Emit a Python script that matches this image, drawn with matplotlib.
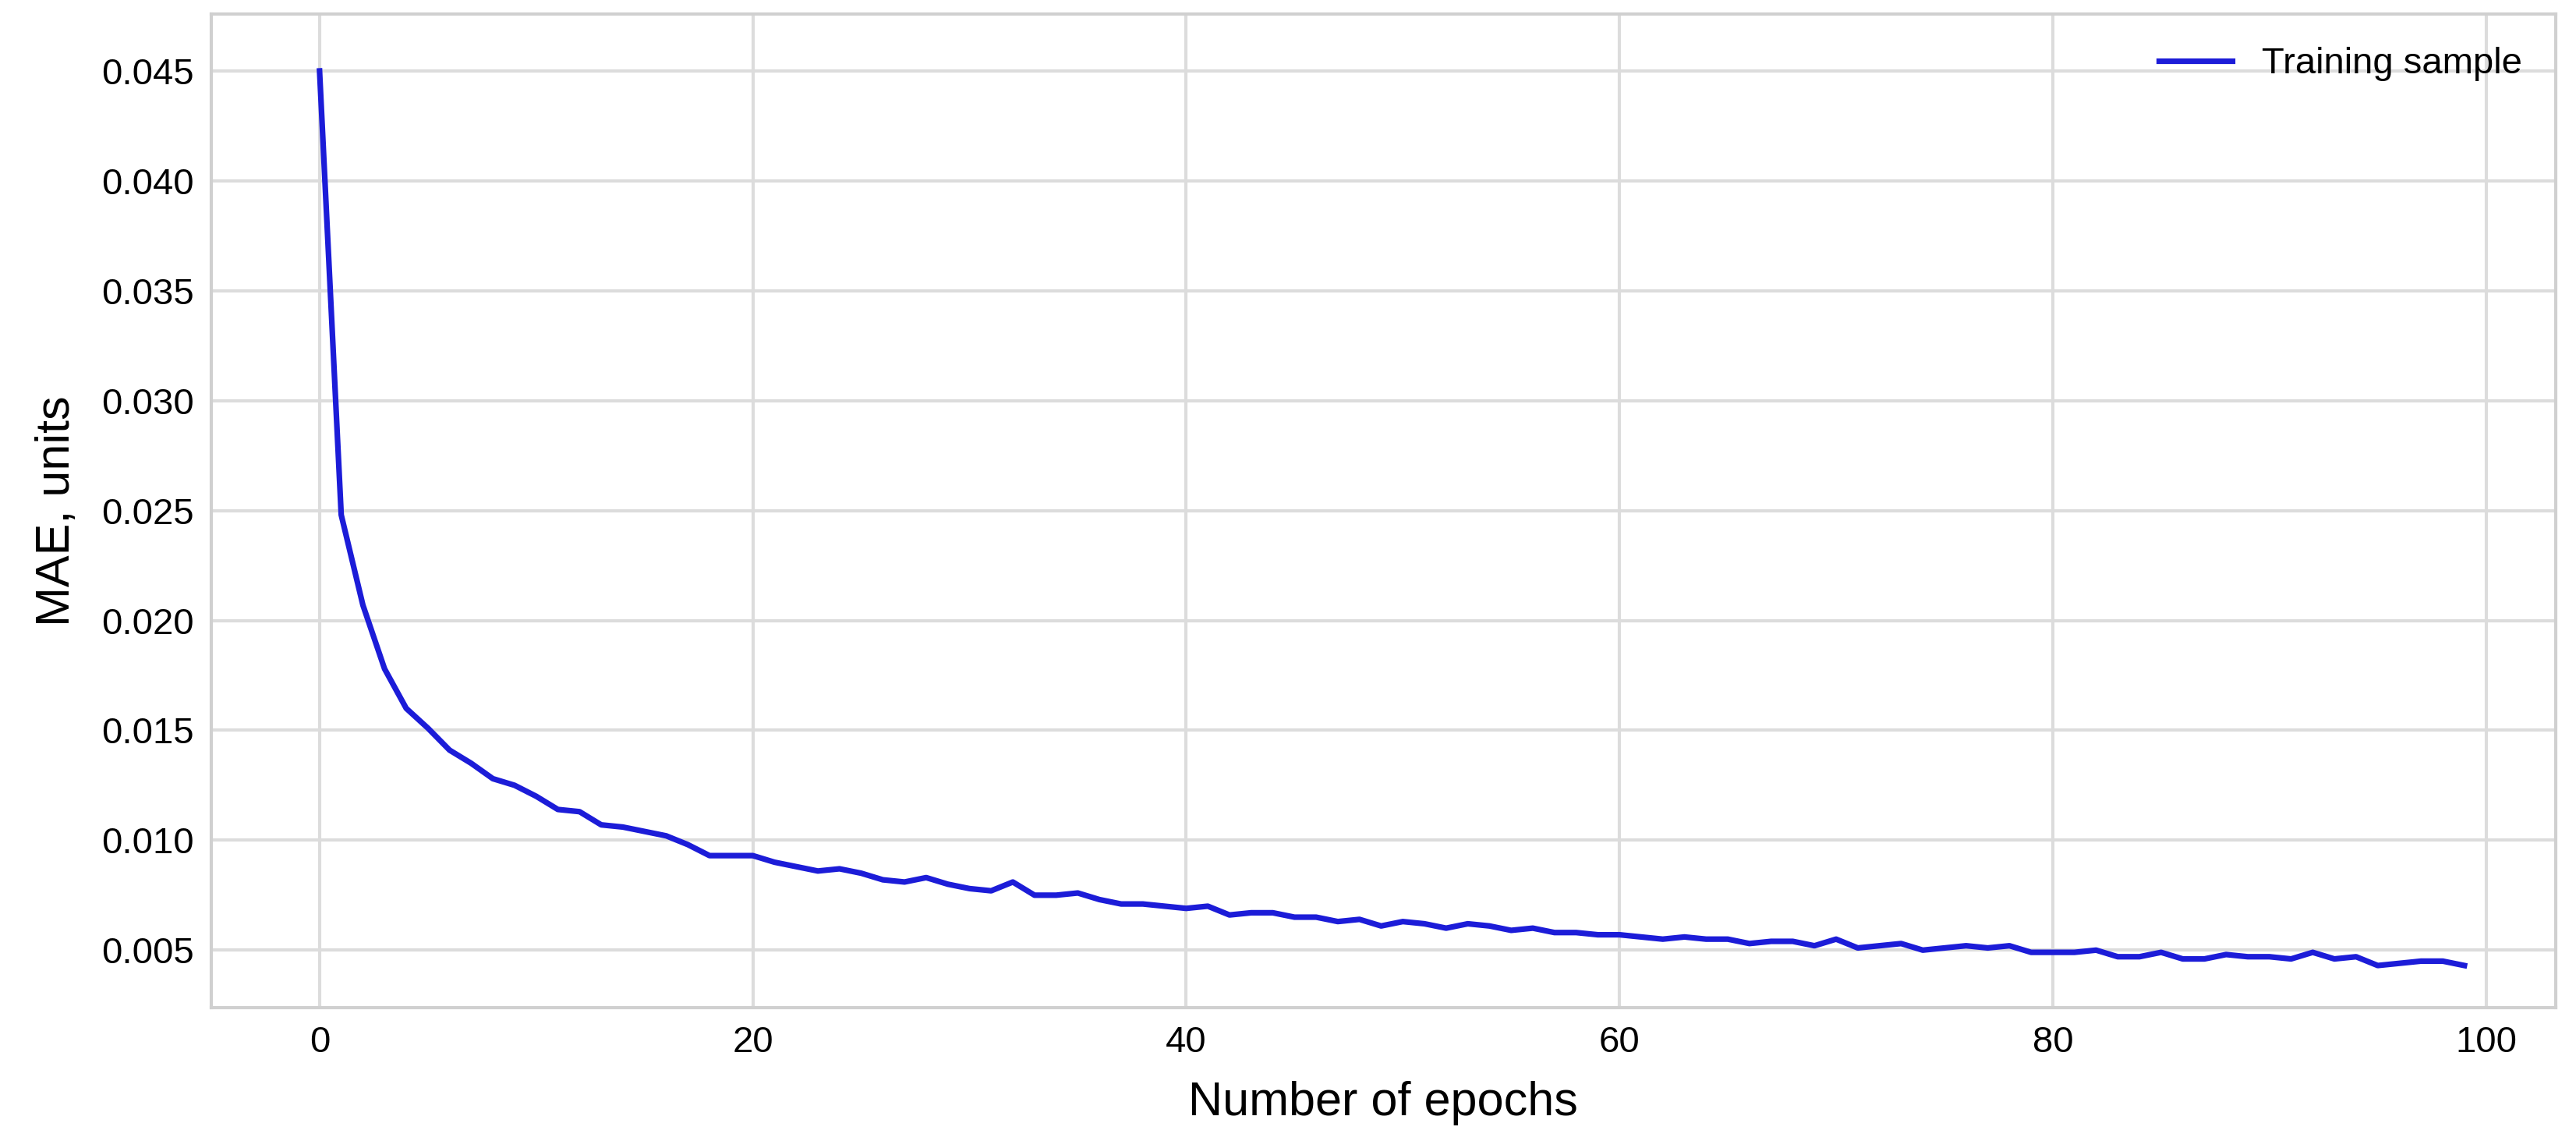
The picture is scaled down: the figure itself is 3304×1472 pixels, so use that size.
import numpy as np
import matplotlib
matplotlib.use("Agg")
import matplotlib.pyplot as plt

epochs = np.arange(100)
mae = [
    0.0450, 0.0248, 0.0207, 0.0178, 0.0160, 0.0151, 0.0141, 0.0135, 0.0128, 0.0125,
    0.0120, 0.0114, 0.0113, 0.0107, 0.0106, 0.0104, 0.0102, 0.0098, 0.0093, 0.0093,
    0.0093, 0.0090, 0.0088, 0.0086, 0.0087, 0.0085, 0.0082, 0.0081, 0.0083, 0.0080,
    0.0078, 0.0077, 0.0081, 0.0075, 0.0075, 0.0076, 0.0073, 0.0071, 0.0071, 0.0070,
    0.0069, 0.0070, 0.0066, 0.0067, 0.0067, 0.0065, 0.0065, 0.0063, 0.0064, 0.0061,
    0.0063, 0.0062, 0.0060, 0.0062, 0.0061, 0.0059, 0.0060, 0.0058, 0.0058, 0.0057,
    0.0057, 0.0056, 0.0055, 0.0056, 0.0055, 0.0055, 0.0053, 0.0054, 0.0054, 0.0052,
    0.0055, 0.0051, 0.0052, 0.0053, 0.0050, 0.0051, 0.0052, 0.0051, 0.0052, 0.0049,
    0.0049, 0.0049, 0.0050, 0.0047, 0.0047, 0.0049, 0.0046, 0.0046, 0.0048, 0.0047,
    0.0047, 0.0046, 0.0049, 0.0046, 0.0047, 0.0043, 0.0044, 0.0045, 0.0045, 0.0043,
]
y_ticks = [0.005, 0.010, 0.015, 0.020, 0.025, 0.030, 0.035, 0.040, 0.045]

plt.rcParams["font.family"] = ["Liberation Sans", "DejaVu Sans"]

fig = plt.figure(figsize=(16.52, 7.36), dpi=200)
ax = fig.add_axes([0.082, 0.122, 0.910, 0.866])
ax.plot(epochs, mae, color="#1c1cd8", linewidth=2.6, label="Training sample")

ax.set_xlim(-5, 103.2)
ax.set_ylim(0.00237, 0.0476)
ax.set_xticks([0, 20, 40, 60, 80, 100])
ax.set_yticks(y_ticks)
ax.set_yticklabels([f"{v:.3f}" for v in y_ticks])
ax.grid(True, color="#dcdcdc", linewidth=1.5)
ax.set_axisbelow(True)
for s in ax.spines.values():
    s.set_color("#d0d0d0")
    s.set_linewidth(1.5)
ax.tick_params(labelsize=17, length=0, pad=8)
ax.set_xlabel("Number of epochs", fontsize=22, labelpad=10)
ax.set_ylabel("MAE, units", fontsize=22, labelpad=10)
ax.legend(loc="upper right", fontsize=17, frameon=False, handlelength=2.0)

fig.savefig("out.png", dpi=200)
